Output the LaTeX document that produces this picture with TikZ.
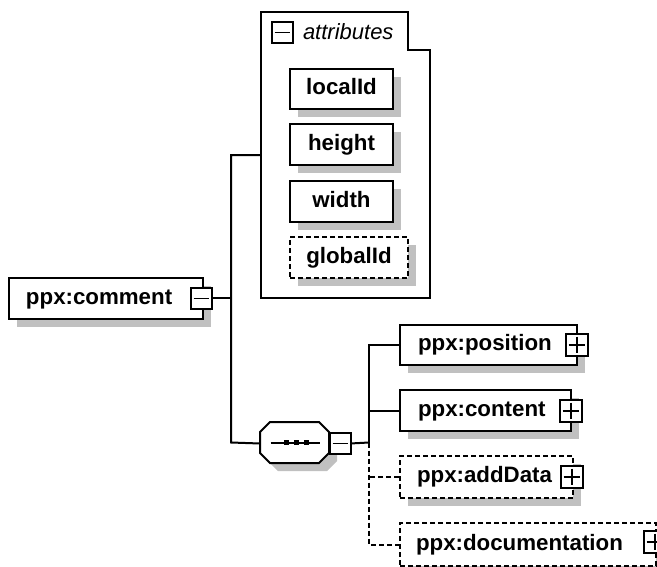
\documentclass[tikz,border=0pt]{standalone}
\usepackage{fontspec}
\newfontfamily\lsans{Liberation Sans}
\usetikzlibrary{shadows}
\definecolor{shadowgray}{RGB}{192,192,192}
\newcommand{\elemfont}{\lsans\bfseries\fontsize{22.3}{27}\selectfont}
\newcommand{\attrfont}{\lsans\itshape\fontsize{22}{26}\selectfont}
\begin{document}
\begin{tikzpicture}[x=1pt,y=-1pt,
  line width=2pt,
  shad/.style={drop shadow={shadow xshift=8pt,shadow yshift=-8pt,opacity=1,fill=shadowgray}},
  box/.style={draw=black,fill=white,anchor=north west,inner ysep=0pt,font=\elemfont,
    text height=16pt,text depth=5pt,shad},
  optbox/.style={box,dash pattern=on 5pt off 3pt},
  icon/.style={draw=black,fill=white,anchor=north west,inner sep=0pt,
    minimum width=21pt,minimum height=21pt,line width=1.8pt},
  iconline/.style={line width=1.8pt},
  conn/.style={line width=2pt},
  optconn/.style={conn,dash pattern=on 5pt off 3pt},
]
\useasboundingbox (0,0) rectangle (657,566);
\fill[white] (0,0) rectangle (657,566);
\clip (0,0) rectangle (657,566);

% attributes container
\draw[fill=white] (261,12) -- (408,12) -- (408,50) -- (430,50) -- (430,298) -- (261,298) -- cycle;
\node[icon] (attrIcon) at (271,21) {};
\draw[iconline] ([xshift=3.5pt]attrIcon.west) -- ([xshift=-3.5pt]attrIcon.east);
\node[anchor=base west,font=\attrfont,inner sep=0pt] (attrLabel) at (302,39) {attributes};
\coordinate (attrIn) at (261,155);

% attributes
\node[box,minimum width=103pt,minimum height=40pt,inner xsep=0pt] (localId) at (289,68) {localId};
\node[box,minimum width=103pt,minimum height=41pt,inner xsep=0pt] (height) at (289,123) {height};
\node[box,minimum width=103pt,minimum height=41pt,inner xsep=0pt] (width) at (289,180) {width};
\node[optbox,minimum width=118pt,minimum height=41pt,inner xsep=0pt] (globalId) at (289,236) {globalId};

% root element
\node[box,minimum height=41pt,inner xsep=17pt,text width=160pt,align=left] (comment) at (8,277) {ppx:comment};
\node[icon] (commentIcon) at (190,287) {};
\draw[iconline] ([xshift=3.5pt]commentIcon.west) -- ([xshift=-3.5pt]commentIcon.east);

% sequence compositor
\node[anchor=north west,minimum width=69pt,minimum height=41pt,inner sep=0pt] (seq) at (260,422) {};
\begin{scope}[shift={(8,8)}]
\fill[shadowgray] (270,422) -- (319,422) -- (329,432) -- (329,453) -- (319,463) -- (270,463) -- (260,453) -- (260,432) -- cycle;
\end{scope}
\draw[fill=white] (270,422) -- (319,422) -- (329,432) -- (329,453) -- (319,463) -- (270,463) -- (260,453) -- (260,432) -- cycle;
\draw (270.5,442.5) -- (320,442.5);
\fill (283.5,440) rectangle +(5,5);
\fill (293.5,440) rectangle +(5,5);
\fill (303.5,440) rectangle +(5,5);
\node[icon] (seqIcon) at (329,432) {};
\draw[iconline] ([xshift=3.5pt]seqIcon.west) -- ([xshift=-3.5pt]seqIcon.east);

% trunk connectors
\coordinate (trunkTop) at (231,155);
\coordinate (trunkBot) at (231,442.5);
\draw[conn] (commentIcon.east) -- (commentIcon.east -| trunkTop);
\draw[conn] (attrIn) -- (trunkTop) -- (trunkBot) -- (seq.west);

% children
\node[box,minimum height=40pt,inner xsep=18pt,text width=141pt,align=left] (position) at (399,324) {ppx:position};
\node[icon,minimum width=22pt,minimum height=22pt] (positionIcon) at (565,333) {};
\node[box,minimum height=41pt,inner xsep=18pt,text width=135pt,align=left] (content) at (399,389) {ppx:content};
\node[icon,minimum width=22pt,minimum height=22pt] (contentIcon) at (559,399) {};
\node[optbox,minimum height=42pt,inner xsep=17pt,text width=139pt,align=left] (addData) at (399,455) {ppx:addData};
\node[icon,minimum width=22pt,minimum height=22pt] (addDataIcon) at (560,465) {};
\node[optbox,minimum height=43pt,inner xsep=16pt,text width=224pt,align=left] (documentation) at (399,522) {ppx:documentation};
\node[icon,minimum width=22pt,minimum height=22pt] (documentationIcon) at (643,530) {};
\foreach \i in {positionIcon,contentIcon,addDataIcon,documentationIcon}{
  \draw[iconline] ([xshift=3.5pt]\i.west) -- ([xshift=-3.5pt]\i.east);
  \draw[iconline] ([yshift=-3.5pt]\i.north) -- ([yshift=3.5pt]\i.south);
}

% branch connectors
\coordinate (branch) at (369,442.5);
\draw[conn] (seqIcon.east) -- (branch);
\draw[conn] (position.west) -| (branch);
\draw[conn] (content.west) -- (content.west -| branch);
\draw[optconn] (branch) |- (documentation.west);
\draw[optconn] (addData.west) -- (addData.west -| branch);
\end{tikzpicture}
\end{document}
